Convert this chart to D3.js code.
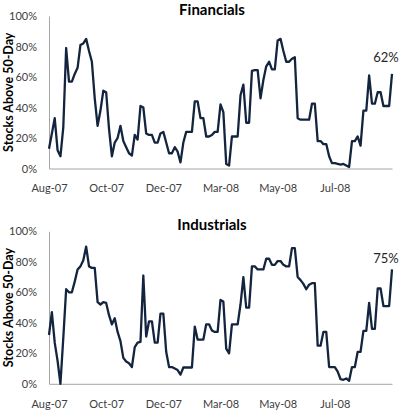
<!DOCTYPE html>
<html><head><meta charset="utf-8">
<script src="https://cdn.jsdelivr.net/npm/d3@7"></script>
<style>
body{margin:0;background:#fff}
text{font-family:Lato,"Open Sans",sans-serif}
</style>
</head><body>
<svg id="c" width="400" height="411"></svg>
<script>
const tickLabels = ["Aug-07","Oct-07","Dec-07","Mar-08","May-08","Jul-08"];
const tickIndex = [0,20,40,60,80,100];
const yTicks = [0,20,40,60,80,100];
const titles = ["Financials","Industrials"];
const lastLabels = ["62%","75%"];
const financials = [13,23,33,12,8,27,79,57,57,62,
66,81,82,85,77,70,46,28,38,51,
50,26,8,17,20,28,18,14,10,8.5,
22,19,41,40,23,22,22,17,17,23,
24,17,10,10,14,11,4,17,24,24,
24,44,44,33,33,21,21,22,24,24,
42,37,3,2,21,21,21,48,55,30,
30,64,64.5,64.5,46,58,67,70,65,65,
84,85,77,70,70,72,73,33,32,32,
32,32,42.5,42.5,18,18,16,16,8,3.5,
3.5,3,2.5,3,2,1,18,18,21,15,
38,38,61,42.5,42.5,50,50,41,41,41,
62];
const industrials = [32,47,27,15,0,30,62,60,60,67,
75,77,81,90,77,76,76,53.5,52,53.5,
53,45,39,43,34,28,17,14.6,13.5,11,
24,27,27.5,71,31,41,41,27,27,46,
46,21,11,11,10,9,6,10.7,10.7,10.7,
10.7,37.5,29,29,29,39,39,35,34,34,
55,54,23,20,39,39,39,52,70,50,
50,77,77,75,75,75,82,82,78,78,
80.5,80.5,78,77,77,89,89,70,68,65.5,
62,65,66,66,25,25,34,34,11,11,
11,8,3,2.6,3.5,2,11,11,21,21,
34.7,34.7,53,36,36,62.5,62.5,51,51,51,
75];
const seriesList = [financials, industrials];

const svg = d3.select("#c");
const left = 49, right = 392;
const panelTops = [16, 231.3];
const plotH = 152.5;
const labelOffsets = [-11.5, -6.7];
const lineColor = "#13243f";
const axisColor = "#a6a6a6";
const textColor = "#404040";

seriesList.forEach((vals, p) => {
  const top = panelTops[p], bottom = top + plotH;
  const x = d3.scaleLinear().domain([0, vals.length - 1]).range([left, right]);
  const y = d3.scaleLinear().domain([0, 100]).range([bottom, top]);
  const g = svg.append("g");

  const ya = g.append("g").attr("transform", `translate(${left},0)`)
    .call(d3.axisLeft(y).tickValues(yTicks).tickSize(0).tickSizeOuter(0).tickPadding(12).tickFormat(d => d + "%"));
  ya.select(".domain").attr("stroke", axisColor).attr("stroke-width", 1);
  ya.selectAll("text").attr("fill", textColor).style("font-size", "11px");

  const xa = g.append("g").attr("transform", `translate(0,${bottom})`)
    .call(d3.axisBottom(x).tickValues(tickIndex).tickSize(0).tickSizeOuter(0).tickPadding(16)
      .tickFormat((d, i) => tickLabels[i]));
  xa.select(".domain").attr("stroke", axisColor).attr("stroke-width", 1);
  xa.selectAll("text").attr("fill", textColor).style("font-size", "11px");

  const line = d3.line().x((d, i) => x(i)).y(d => y(d));
  g.append("path").datum(vals).attr("d", line)
    .attr("fill", "none").attr("stroke", lineColor).attr("stroke-width", 2.3)
    .attr("stroke-linejoin", "round");

  g.append("text").attr("x", 212).attr("y", top - 1).attr("text-anchor", "middle")
    .style("font-size", "15px").style("font-weight", "bold").attr("fill", "#000")
    .text(titles[p]);

  g.append("text").attr("transform", `translate(13,${(top + bottom) / 2}) rotate(-90)`)
    .attr("text-anchor", "middle").style("font-size", "12.5px").style("font-weight", "bold")
    .attr("fill", "#000").text("Stocks Above 50-Day");

  g.append("text").attr("x", 386).attr("y", y(vals[vals.length - 1]) + labelOffsets[p])
    .attr("text-anchor", "middle").style("font-size", "13px").attr("fill", "#262626")
    .text(lastLabels[p]);
});
</script>
</body></html>
